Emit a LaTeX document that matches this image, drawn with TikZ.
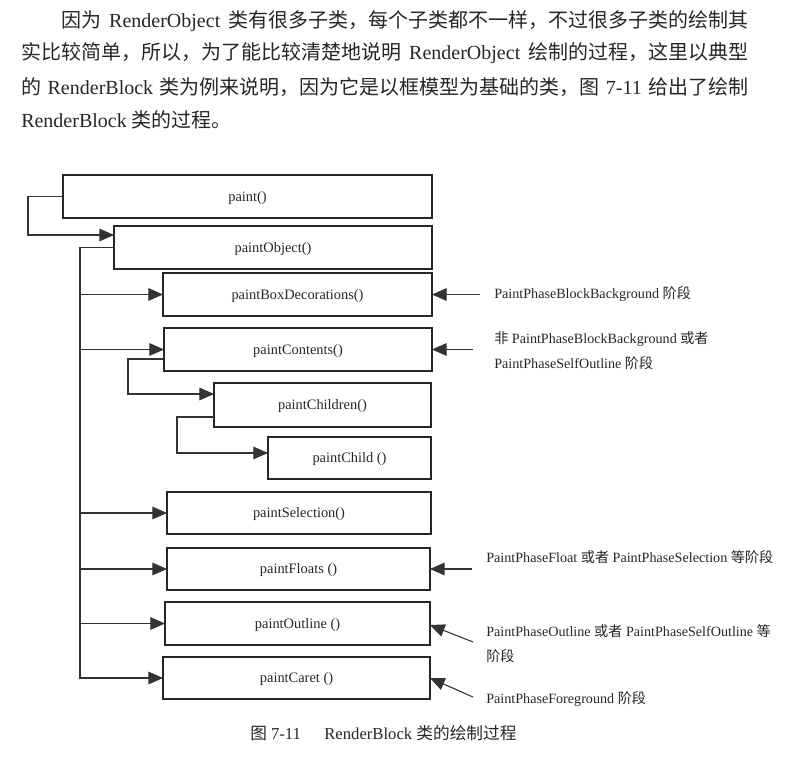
\documentclass[tikz,border=0pt]{standalone}
\usepackage{fontspec}
\setmainfont{Liberation Serif}
\newfontfamily\cjk{Noto Sans CJK SC}
\newcommand\zh[1]{{\cjk #1}}
\usetikzlibrary{arrows.meta}
\begin{document}
\begin{tikzpicture}[x=0.75pt,y=-0.75pt,
  box/.style={draw=black!85, line width=1.5pt, inner sep=0pt, outer sep=0pt, minimum height=32.25pt, text height=7pt, text depth=0pt, font=\fontsize{10.8}{12}\selectfont, text=black!85},
  conn/.style={draw=black!80, line width=0.8pt},
  arr/.style={conn, -{Triangle[length=11pt,width=9.5pt]}},
  note/.style={anchor=west, inner sep=0pt, font=\fontsize{10.6}{18.75}\selectfont, align=left, text=black!85},
  para/.style={anchor=base west, inner sep=0pt, font=\fontsize{15}{18}\selectfont, text=black!85},
  capt/.style={anchor=west, inner sep=0pt, font=\fontsize{12.5}{14}\selectfont, text=black!85}]
\useasboundingbox (0,0) rectangle (800,759);

% paragraph
\node[para] (l1) at (61,27.6) {\makebox[515.25pt][s]{\zh{因为} RenderObject \zh{类有很多子类，每个子类都不一样，不过很多子类的绘制其}}};
\node[para] (l2) at (21,59.6) {\makebox[545.25pt][s]{\zh{实比较简单，所以，为了能比较清楚地说明} RenderObject \zh{绘制的过程，这里以典型}}};
\node[para] (l3) at (21,94.6) {\makebox[545.25pt][s]{\zh{的} RenderBlock \zh{类为例来说明，因为它是以框模型为基础的类，图} 7-11 \zh{给出了绘制}}};
\node[para] (l4) at (21,127.6) {RenderBlock \zh{类的过程。}};

% boxes
\node[box, minimum width=276.75pt] (paint) at (247.5,196.5) {paint()};
\node[box, minimum width=238.5pt] (pobj) at (273,247.5) {paintObject()};
\node[box, minimum width=201.75pt] (pbd) at (297.5,294.5) {paintBoxDecorations()};
\node[box, minimum width=201pt] (pcont) at (298,349.5) {paintContents()};
\node[box, minimum width=162.75pt, minimum height=33pt] (pchn) at (322.5,405) {paintChildren()};
\node[box, minimum width=122.25pt, minimum height=31.5pt] (pchd) at (349.5,458) {paintChild ()};
\node[box, minimum width=198pt, minimum height=31.5pt] (psel) at (299,513) {paintSelection()};
\node[box, minimum width=197.25pt, minimum height=31.5pt] (pfl) at (298.5,569) {paintFloats ()};
\node[box, minimum width=198.75pt] (pout) at (297.5,623.5) {paintOutline ()};
\node[box, minimum width=200.25pt, minimum height=31.5pt] (pcar) at (296.5,678) {paintCaret ()};

% left connectors
\draw[arr] (paint.west) -| (28,235) -- (pobj.west |- 0,235);
\draw[arr] (pobj.west) -| (pcar.west -| 80,0) -- (pcar.west);
\foreach \n in {pbd,pcont,psel,pfl,pout}
  \draw[arr] (\n.west -| 80,0) -- (\n.west);
\draw[arr] (pcont.west |- 0,359) -| (128,394) -- (pchn.west |- 0,394);
\draw[arr] (pchn.west |- 0,417) -| (177,453) -- (pchd.west |- 0,453);

% right arrows
\coordinate (rbd) at (480,294.5);
\coordinate (rcont) at (473,349.5);
\coordinate (rfl) at (472,569);
\coordinate (rout) at (473,642);
\coordinate (rcar) at (473,697);
\draw[arr] (rbd) -- (pbd.east);
\draw[arr] (rcont) -- (pcont.east);
\draw[arr] (rfl) -- (pfl.east);
\draw[arr] (rout) -- (pout.east |- 0,625);
\draw[arr] (rcar) -- (pcar.east);

% labels
\node[note] (lbd) at (494,294) {PaintPhaseBlockBackground \zh{阶段}};
\node[note] (lcont) at (494,350.5) {\zh{非} PaintPhaseBlockBackground \zh{或者}\\PaintPhaseSelfOutline \zh{阶段}};
\node[note] (lfl) at (486,557) {PaintPhaseFloat \zh{或者} PaintPhaseSelection \zh{等阶段}};
\node[note] (lout) at (486,644) {PaintPhaseOutline \zh{或者} PaintPhaseSelfOutline \zh{等}\\\zh{阶段}};
\node[note] (lcar) at (486,699) {PaintPhaseForeground \zh{阶段}};

% caption
\node[capt] (cap) at (250,733) {\zh{图} 7-11\hspace{1.4em}RenderBlock \zh{类的绘制过程}};
\end{tikzpicture}
\end{document}
